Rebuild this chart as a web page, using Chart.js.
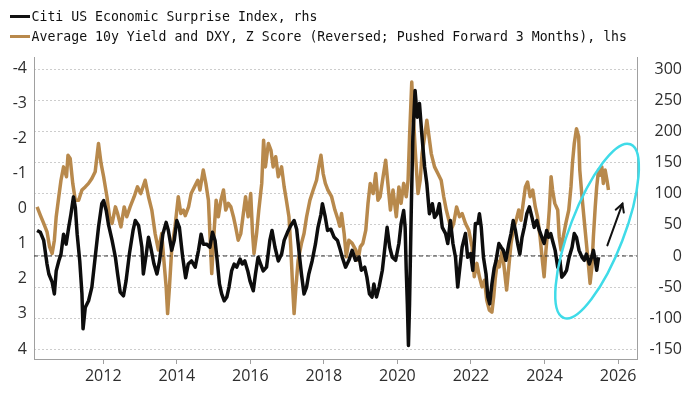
<!DOCTYPE html>
<html><head><meta charset="utf-8">
<script src="https://cdn.jsdelivr.net/npm/chart.js@4/dist/chart.umd.min.js"></script>
<style>
html,body{margin:0;padding:0;background:#fff;}
#wrap{position:relative;width:700px;height:394px;overflow:hidden;}
canvas{position:absolute;left:0;top:0;}
.leg{position:absolute;left:10px;height:20px;display:flex;align-items:center;font-family:"DejaVu Sans Mono",monospace;font-size:13.2px;color:#111;white-space:nowrap;}
.leg .sw{width:20px;height:3px;margin-right:1.5px;flex:none;}
</style></head>
<body>
<div id="wrap">
<canvas id="c" width="700" height="394"></canvas>
<div class="leg" style="top:6px"><span class="sw" style="background:#111"></span><span class="tx">Citi US Economic Surprise Index, rhs</span></div>
<div class="leg" style="top:26px"><span class="sw" style="background:#b8894c"></span><span class="tx">Average 10y Yield and DXY, Z Score (Reversed; Pushed Forward 3 Months), lhs</span></div>
</div>
<script>
// ---- data ----
const seriesNames = ["Citi US Economic Surprise Index, rhs", "Average 10y Yield and DXY, Z Score (Reversed; Pushed Forward 3 Months), lhs"];
const xTickYears = [2012, 2014, 2016, 2018, 2020, 2022, 2024, 2026];
const leftTicks = [-4, -3, -2, -1, 0, 1, 2, 3, 4];
const rightTicks = [-150, -100, -50, 0, 50, 100, 150, 200, 250, 300];

const citiYears = [2010.20,2010.29,2010.38,2010.47,2010.52,2010.61,2010.67,2010.72,2010.79,2010.85,2010.92,2010.99,2011.06,2011.12,2011.19,2011.24,2011.29,2011.36,2011.42,2011.45,2011.51,2011.60,2011.69,2011.78,2011.87,2011.96,2012.01,2012.08,2012.14,2012.24,2012.33,2012.39,2012.46,2012.55,2012.62,2012.71,2012.81,2012.87,2012.96,2013.05,2013.09,2013.17,2013.23,2013.29,2013.38,2013.46,2013.53,2013.62,2013.71,2013.77,2013.86,2013.93,2014.00,2014.07,2014.16,2014.24,2014.31,2014.40,2014.50,2014.59,2014.66,2014.72,2014.81,2014.90,2014.97,2015.04,2015.10,2015.16,2015.22,2015.29,2015.36,2015.42,2015.49,2015.56,2015.63,2015.72,2015.78,2015.85,2015.93,2015.99,2016.08,2016.14,2016.21,2016.28,2016.35,2016.44,2016.53,2016.59,2016.67,2016.76,2016.85,2016.92,2017.01,2017.10,2017.19,2017.26,2017.32,2017.39,2017.46,2017.53,2017.59,2017.68,2017.77,2017.84,2017.92,2017.96,2018.03,2018.10,2018.19,2018.28,2018.37,2018.44,2018.50,2018.59,2018.68,2018.77,2018.86,2018.96,2019.02,2019.11,2019.17,2019.24,2019.31,2019.36,2019.43,2019.50,2019.59,2019.65,2019.72,2019.79,2019.86,2019.95,2020.04,2020.10,2020.17,2020.21,2020.24,2020.27,2020.30,2020.33,2020.38,2020.42,2020.48,2020.54,2020.60,2020.67,2020.74,2020.80,2020.87,2020.95,2021.01,2021.08,2021.14,2021.22,2021.31,2021.37,2021.44,2021.51,2021.58,2021.64,2021.69,2021.76,2021.85,2021.91,2021.99,2022.05,2022.12,2022.19,2022.23,2022.28,2022.34,2022.41,2022.46,2022.51,2022.57,2022.63,2022.68,2022.76,2022.82,2022.88,2022.95,2023.03,2023.09,2023.15,2023.21,2023.27,2023.33,2023.39,2023.45,2023.52,2023.59,2023.66,2023.72,2023.79,2023.86,2023.93,2023.99,2024.06,2024.11,2024.17,2024.24,2024.29,2024.36,2024.42,2024.47,2024.54,2024.60,2024.67,2024.75,2024.81,2024.87,2024.94,2025.02,2025.08,2025.14,2025.22,2025.28,2025.33,2025.38,2025.42,2025.47];
const citiValues = [41,38,25,-13,-29,-42,-61,-24,-8,3,35,19,46,67,95,78,35,-8,-61,-117,-83,-72,-50,-2,46,84,89,73,51,25,-2,-29,-58,-64,-40,3,41,57,49,14,-29,3,30,14,-13,-29,-8,35,54,41,9,25,57,46,-2,-35,-13,-8,-18,9,35,19,19,14,38,25,-8,-45,-61,-72,-66,-50,-24,-13,-18,-5,-13,-8,-24,-40,-56,-29,-2,-13,-24,-18,25,41,14,-8,3,25,38,49,57,43,9,-29,-61,-50,-29,-8,19,46,67,84,65,41,43,30,25,11,-2,-18,-7,9,-7,-2,-23,-18,-34,-61,-66,-45,-66,-50,-23,9,46,14,-2,-7,20,52,73,46,-23,-77,-144,-77,84,191,266,223,245,191,143,116,68,84,62,68,84,46,36,20,57,20,-2,-50,-23,14,36,-2,4,-23,52,52,68,46,-2,-29,-66,-77,-45,-20,-8,20,14,9,-7,20,36,57,41,20,3,30,46,68,79,62,46,57,41,30,20,41,30,36,20,9,-18,-7,-34,-29,-23,-2,14,36,30,9,-2,-7,3,-13,-2,9,-7,-23,-2];

const zYears = [2010.20,2010.29,2010.38,2010.47,2010.54,2010.61,2010.67,2010.72,2010.79,2010.85,2010.92,2011.00,2011.04,2011.10,2011.17,2011.24,2011.33,2011.42,2011.51,2011.60,2011.69,2011.78,2011.87,2011.94,2012.01,2012.10,2012.17,2012.24,2012.33,2012.39,2012.48,2012.57,2012.64,2012.73,2012.84,2012.93,2013.02,2013.14,2013.23,2013.32,2013.41,2013.50,2013.59,2013.64,2013.71,2013.75,2013.80,2013.86,2013.95,2014.04,2014.11,2014.18,2014.23,2014.32,2014.39,2014.48,2014.57,2014.63,2014.72,2014.79,2014.86,2014.90,2014.95,2015.01,2015.07,2015.13,2015.20,2015.27,2015.33,2015.40,2015.47,2015.54,2015.60,2015.67,2015.74,2015.81,2015.87,2015.94,2016.01,2016.06,2016.10,2016.17,2016.23,2016.31,2016.36,2016.41,2016.49,2016.56,2016.62,2016.69,2016.76,2016.85,2016.92,2016.98,2017.05,2017.10,2017.15,2017.19,2017.24,2017.30,2017.39,2017.46,2017.53,2017.62,2017.71,2017.80,2017.86,2017.92,2017.98,2018.04,2018.11,2018.21,2018.30,2018.39,2018.43,2018.48,2018.55,2018.61,2018.68,2018.77,2018.87,2018.93,2018.99,2019.06,2019.14,2019.20,2019.26,2019.34,2019.41,2019.47,2019.53,2019.61,2019.68,2019.74,2019.81,2019.88,2019.97,2020.04,2020.10,2020.17,2020.24,2020.29,2020.33,2020.39,2020.44,2020.49,2020.56,2020.62,2020.67,2020.74,2020.80,2020.86,2020.92,2021.01,2021.10,2021.19,2021.26,2021.33,2021.40,2021.46,2021.53,2021.61,2021.69,2021.76,2021.85,2021.94,2022.03,2022.09,2022.16,2022.23,2022.30,2022.37,2022.43,2022.50,2022.57,2022.62,2022.66,2022.72,2022.77,2022.85,2022.91,2022.97,2023.03,2023.09,2023.15,2023.23,2023.30,2023.36,2023.42,2023.48,2023.54,2023.61,2023.68,2023.75,2023.81,2023.88,2023.95,2023.99,2024.04,2024.09,2024.13,2024.18,2024.22,2024.28,2024.36,2024.40,2024.45,2024.51,2024.58,2024.66,2024.72,2024.76,2024.81,2024.87,2024.93,2024.96,2025.02,2025.08,2025.14,2025.20,2025.24,2025.29,2025.33,2025.38,2025.42,2025.47,2025.51,2025.56,2025.60,2025.65,2025.70,2025.74];
const zValues = [-0.05,0.19,0.42,0.66,1.09,1.28,0.90,0.23,-0.34,-0.81,-1.19,-0.91,-1.52,-1.43,-0.72,-0.24,-0.24,-0.53,-0.62,-0.72,-0.86,-1.05,-1.86,-1.29,-0.91,-0.34,0.23,0.42,-0.05,0.14,0.52,-0.05,0.23,-0.05,-0.34,-0.62,-0.43,-0.81,-0.34,0.04,0.71,1.18,0.71,1.37,2.23,2.99,2.23,1.18,0.52,-0.34,0.14,0.04,0.20,-0.05,-0.43,-0.62,-0.81,-0.53,-1.10,-0.72,-0.24,0.71,1.85,0.71,-0.24,0.23,-0.24,-0.53,0.04,-0.15,-0.05,0.23,0.52,0.90,0.71,0.14,-0.34,0.23,-0.43,0.71,1.28,0.71,0.04,-0.72,-1.95,-1.19,-1.86,-1.67,-1.19,-1.48,-0.91,-1.19,-0.62,-0.24,0.23,1.09,2.23,2.99,2.23,1.47,0.99,0.71,0.23,-0.24,-0.53,-0.81,-1.19,-1.52,-1.00,-0.72,-0.53,-0.34,0.04,0.33,0.50,0.14,0.70,1.37,0.90,0.99,1.18,1.47,1.09,0.99,0.61,-0.15,-0.72,-0.43,-1.00,-0.24,-0.34,-0.91,-1.38,-0.72,0.04,-0.53,0.23,-0.62,-0.15,-0.72,-0.34,-0.81,-2.05,-3.61,-2.52,-1.57,-0.43,-0.81,-1.57,-2.05,-2.52,-2.05,-1.57,-1.19,-1.00,-0.81,-0.34,0.04,0.33,0.61,0.42,-0.05,0.23,0.14,0.42,0.61,1.09,1.94,1.56,1.94,2.23,2.04,2.61,2.89,2.95,2.50,2.00,1.50,1.66,1.18,1.75,2.32,1.66,0.99,0.61,0.33,0.04,0.33,-0.15,-0.62,-0.76,-0.34,-0.53,-0.05,0.23,0.80,1.56,1.94,1.18,0.61,0.04,-0.91,-0.53,-0.15,0.04,0.80,1.18,0.80,0.42,0.04,-0.62,-1.29,-1.86,-2.28,-2.05,-1.10,-0.34,0.33,0.99,1.66,2.13,1.66,0.80,-0.05,-0.62,-1.10,-0.95,-1.19,-0.72,-1.10,-0.81,-0.53];

// annotation anchors in data units (x: year, y: right-axis value)
const ellipseCenter = [2025.43, 40];
const arrowFrom = [2025.71, 17];
const arrowTo = [2026.12, 84];

// ---- chart ----
const X_MIN = 2010.116, X_MAX = 2026.516;
const GOLD = '#b8894c';
const tickFont = { family: '"Open Sans", "Liberation Sans", sans-serif', size: 16 };
const tickColor = '#2e2e2e';

const annot = {
  id: 'annot',
  afterDatasetsDraw(chart) {
    const ctx = chart.ctx, xs = chart.scales.x, ys = chart.scales.y2;
    ctx.save();
    const cx = xs.getPixelForValue(ellipseCenter[0]), cy = ys.getPixelForValue(ellipseCenter[1]);
    ctx.strokeStyle = '#3fdbe8';
    ctx.lineWidth = 2.5;
    ctx.beginPath();
    ctx.ellipse(cx, cy, 93, 27, -69 * Math.PI / 180, 0, Math.PI * 2);
    ctx.stroke();
    const x1 = xs.getPixelForValue(arrowFrom[0]), y1 = ys.getPixelForValue(arrowFrom[1]);
    const x2 = xs.getPixelForValue(arrowTo[0]), y2 = ys.getPixelForValue(arrowTo[1]);
    ctx.strokeStyle = '#111';
    ctx.lineWidth = 2;
    ctx.lineCap = 'round';
    ctx.beginPath(); ctx.moveTo(x1, y1); ctx.lineTo(x2, y2); ctx.stroke();
    const ang = Math.atan2(y2 - y1, x2 - x1), h = 9, sp = 0.5;
    ctx.beginPath();
    ctx.moveTo(x2 - h * Math.cos(ang - sp), y2 - h * Math.sin(ang - sp));
    ctx.lineTo(x2, y2);
    ctx.lineTo(x2 - h * Math.cos(ang + sp), y2 - h * Math.sin(ang + sp));
    ctx.stroke();
    ctx.restore();
  }
};

new Chart(document.getElementById('c'), {
  type: 'line',
  data: {
    datasets: [
      { label: seriesNames[0], data: citiYears.map((x, i) => ({ x, y: citiValues[i] })), yAxisID: 'y2',
        borderColor: '#0d0d0d', borderWidth: 3.5, pointRadius: 0, tension: 0, order: 0, borderJoinStyle: 'round' },
      { label: 'zero', data: [{ x: X_MIN, y: 0 }, { x: X_MAX, y: 0 }], yAxisID: 'y2',
        borderColor: '#333', borderWidth: 1, borderDash: [4, 3], pointRadius: 0, order: 1 },
      { label: seriesNames[1], data: zYears.map((x, i) => ({ x, y: zValues[i] })), yAxisID: 'y',
        borderColor: GOLD, borderWidth: 3.5, pointRadius: 0, tension: 0, order: 2, borderJoinStyle: 'round' }
    ]
  },
  options: {
    responsive: false,
    animation: false,
    devicePixelRatio: 1,
    layout: { padding: { top: 57, right: 18, left: 0, bottom: 0 } },
    plugins: { legend: { display: false }, tooltip: { enabled: false } },
    scales: {
      x: {
        type: 'linear', min: X_MIN, max: X_MAX,
        afterBuildTicks: s => { s.ticks = xTickYears.map(v => ({ value: v })); },
        afterFit: s => { s.height = 35; },
        ticks: { autoSkip: false, maxRotation: 0, font: tickFont, color: tickColor, padding: 3, callback: v => String(v) },
        grid: { display: true, drawOnChartArea: false, drawTicks: true, tickLength: 5, color: '#a0a0a0' },
        border: { display: true, color: '#a0a0a0', width: 1 }
      },
      y: {
        position: 'left', reverse: true, min: -4.322, max: 4.285,
        afterBuildTicks: s => { s.ticks = leftTicks.map(v => ({ value: v })); },
        afterFit: s => { s.width = 34; },
        ticks: { autoSkip: false, font: tickFont, color: tickColor, padding: 7, callback: v => String(v) },
        grid: { display: false, drawTicks: false },
        border: { display: true, color: '#a0a0a0', width: 1 }
      },
      y2: {
        position: 'right', min: -165.6, max: 319.8,
        afterBuildTicks: s => { s.ticks = rightTicks.map(v => ({ value: v })); },
        afterFit: s => { s.width = 45; },
        ticks: { autoSkip: false, font: tickFont, color: tickColor, crossAlign: 'far', callback: v => String(v) },
        grid: { display: true, drawOnChartArea: true, drawTicks: false, color: '#cdcdcd', lineWidth: 1 },
        border: { display: true, color: '#a0a0a0', width: 1, dash: [2, 2] }
      }
    }
  },
  plugins: [annot]
});
</script>
</body></html>
